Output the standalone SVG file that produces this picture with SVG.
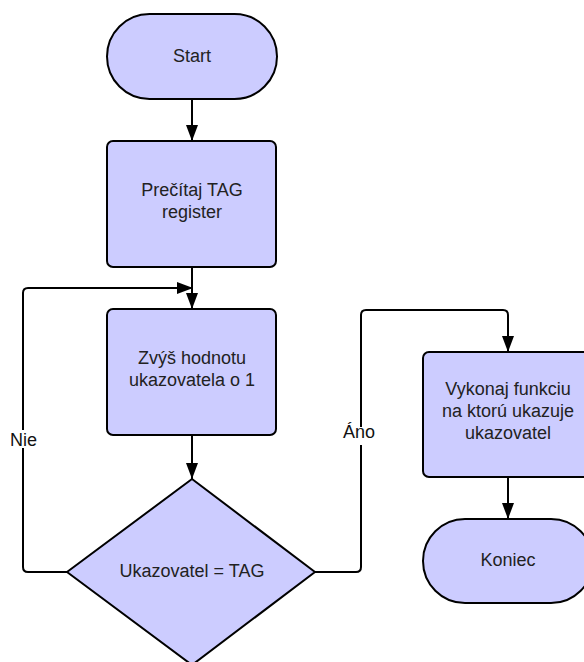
<svg xmlns="http://www.w3.org/2000/svg" width="584" height="662" viewBox="0 0 584 662">
<defs>
<marker id="arr" viewBox="0 0 16 12" refX="16" refY="6" markerWidth="16" markerHeight="12" markerUnits="userSpaceOnUse" orient="auto">
<path d="M0,0 L16,6 L0,12 Z" fill="#000"/>
</marker>
</defs>
<style>
.shape{fill:#ccccff;stroke:#000;stroke-width:2}
.t{font-family:"Liberation Sans",Arial,sans-serif;font-size:18px;fill:#222;text-anchor:middle}
.c{fill:none;stroke:#000;stroke-width:2;stroke-linejoin:round}
.lbl{font-family:"Liberation Sans",Arial,sans-serif;font-size:18px;fill:#111}
</style>
<rect width="584" height="662" fill="#fff"/>
<g id="connectors">
<path class="c" d="M192,99 L192,141" marker-end="url(#arr)"/>
<path class="c" d="M192,267 L192,309" marker-end="url(#arr)"/>
<path class="c" d="M67,572 L28,572 Q23,572 23,567 L23,293 Q23,288 28,288 L193,288" marker-end="url(#arr)"/>
<path class="c" d="M192,435 L192,479" marker-end="url(#arr)"/>
<path class="c" d="M315,572 L356,572 Q361,572 361,567 L361,315 Q361,310 366,310 L503,310 Q508,310 508,315 L508,352" marker-end="url(#arr)"/>
<path class="c" d="M508,477 L508,519" marker-end="url(#arr)"/>
<rect x="9" y="430" width="29" height="18" fill="#fff"/>
<text class="lbl" x="10" y="446">Nie</text>
<rect x="342" y="427" width="37" height="18" fill="#fff"/>
<text class="lbl" x="343" y="438">Áno</text>
</g>
<g id="start">
<rect class="shape" x="107" y="14" width="170" height="85" rx="42.5" ry="42.5"/>
<text class="t" x="192" y="62">Start</text>
</g>
<g id="read">
<rect class="shape" x="107" y="141" width="169" height="126" rx="6" ry="6"/>
<text class="t" x="192" y="196">Prečítaj TAG</text>
<text class="t" x="192" y="218">register</text>
</g>
<g id="inc">
<rect class="shape" x="107" y="309" width="169" height="126" rx="6" ry="6"/>
<text class="t" x="192" y="364">Zvýš hodnotu</text>
<text class="t" x="192" y="386">ukazovatela o 1</text>
</g>
<g id="decision">
<polygon class="shape" points="192,479 315,572 192,665 67,572" stroke-linejoin="round"/>
<text class="t" x="192" y="577">Ukazovatel = TAG</text>
</g>
<g id="exec">
<rect class="shape" x="423" y="352" width="170" height="125" rx="6" ry="6"/>
<text class="t" x="508" y="395">Vykonaj funkciu</text>
<text class="t" x="508" y="417">na ktorú ukazuje</text>
<text class="t" x="508" y="439">ukazovatel</text>
</g>
<g id="end">
<rect class="shape" x="423" y="519" width="170" height="84" rx="42" ry="42"/>
<text class="t" x="508" y="566">Koniec</text>
</g>
</svg>
